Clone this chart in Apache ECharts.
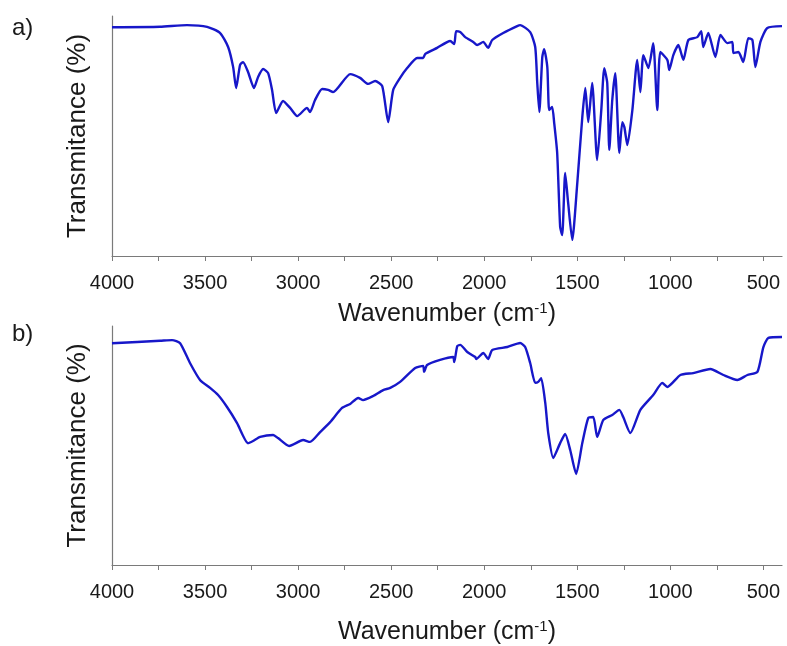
<!DOCTYPE html>
<html>
<head>
<meta charset="utf-8">
<script src="https://cdn.jsdelivr.net/npm/echarts@6/dist/echarts.min.js"></script>
<style>
  html, body { margin: 0; padding: 0; background: #fff; }
  #chart { width: 787px; height: 646px; }
</style>
</head>
<body>
<div id="chart"></div>
<script>
// FTIR spectra: wavenumber (cm-1) and relative transmittance (arbitrary units)
const wavenumberA = [4000, 3742, 3597, 3489, 3419, 3376, 3349, 3333, 3312, 3296, 3269, 3237, 3215, 3188, 3161, 3140, 3118, 3081, 3043, 3005, 2952, 2936, 2909, 2871, 2839, 2812, 2720, 2667, 2624, 2586, 2548, 2516, 2489, 2452, 2414, 2360, 2328, 2317, 2253, 2183, 2161, 2151, 2129, 2102, 2059, 2038, 2005, 1979, 1957, 1898, 1823, 1807, 1753, 1726, 1715, 1704, 1688, 1678, 1661, 1651, 1635, 1624, 1608, 1592, 1581, 1565, 1549, 1527, 1500, 1473, 1457, 1441, 1420, 1393, 1371, 1355, 1339, 1328, 1312, 1296, 1274, 1258, 1247, 1231, 1204, 1178, 1161, 1145, 1118, 1092, 1070, 1054, 1016, 1006, 984, 957, 930, 903, 855, 834, 823, 796, 758, 731, 694, 667, 661, 634, 608, 581, 559, 543, 516, 479, 400];
const transA = [95.3, 95.5, 96.2, 95.5, 92.9, 87.1, 78.7, 70.0, 79.6, 80.8, 76.7, 70.0, 74.6, 77.9, 76.2, 69.2, 59.6, 64.6, 61.7, 58.3, 61.7, 60.0, 65.0, 69.6, 69.2, 68.3, 75.8, 74.2, 71.7, 72.9, 70.8, 55.8, 69.2, 74.2, 78.3, 82.5, 82.5, 84.2, 86.7, 89.6, 88.3, 93.7, 93.3, 91.2, 89.2, 87.9, 89.2, 86.7, 90.0, 92.9, 95.8, 96.2, 93.3, 87.1, 72.1, 60.0, 82.9, 86.2, 78.7, 60.8, 62.1, 55.4, 42.9, 12.1, 8.7, 34.6, 22.1, 6.7, 30.4, 57.9, 70.0, 55.8, 72.1, 40.0, 60.8, 78.3, 72.1, 44.2, 65.0, 76.2, 42.9, 55.8, 53.7, 46.2, 60.8, 81.7, 68.3, 83.7, 78.3, 88.7, 60.8, 85.0, 81.7, 77.5, 83.7, 87.9, 81.7, 90.0, 91.2, 93.7, 87.1, 92.9, 82.9, 92.1, 88.7, 89.2, 84.6, 85.0, 80.8, 90.8, 90.0, 78.7, 89.2, 95.0, 95.8];

const wavenumberB = [4000, 3742, 3677, 3634, 3581, 3527, 3473, 3430, 3382, 3328, 3269, 3242, 3204, 3134, 3108, 3048, 2973, 2936, 2882, 2828, 2764, 2720, 2677, 2651, 2597, 2543, 2505, 2452, 2371, 2328, 2323, 2307, 2237, 2167, 2161, 2145, 2129, 2091, 2048, 2043, 2005, 1979, 1957, 1876, 1807, 1780, 1753, 1726, 1710, 1694, 1672, 1656, 1629, 1592, 1565, 1538, 1506, 1473, 1441, 1414, 1393, 1360, 1312, 1274, 1253, 1215, 1161, 1092, 1043, 1016, 946, 877, 785, 715, 640, 586, 532, 500, 473, 400];
const transB = [92.8, 93.8, 94.1, 92.8, 84.5, 77.4, 74.1, 71.1, 66.1, 59.4, 51.0, 51.9, 53.6, 54.4, 53.1, 49.8, 52.3, 51.5, 55.6, 59.8, 65.7, 67.4, 69.9, 69.0, 70.7, 73.2, 74.1, 76.6, 82.4, 83.3, 80.8, 83.7, 85.8, 87.0, 84.9, 91.6, 92.1, 89.1, 87.0, 86.2, 88.7, 86.2, 90.0, 91.2, 92.9, 91.2, 84.5, 76.2, 76.6, 78.2, 67.8, 55.2, 44.8, 51.0, 54.8, 48.1, 38.1, 51.0, 61.5, 61.9, 53.6, 60.7, 62.8, 64.9, 61.9, 55.2, 64.9, 71.1, 76.2, 74.5, 79.5, 80.3, 82.0, 79.5, 77.4, 79.5, 80.8, 91.2, 95.0, 95.4];

const tickValues = [500, 750, 1000, 1250, 1500, 1750, 2000, 2250, 2500, 2750, 3000, 3250, 3500, 3750, 4000];
const labelValues = [500, 1000, 1500, 2000, 2500, 3000, 3500, 4000];
const xTitle = 'Wavenumber (cm{sup|-1})';
const yTitle = 'Transmitance (%)';
const panelLabels = ['a)', 'b)'];

const FONT = '"Liberation Sans", Arial, sans-serif';
const AXIS_GRAY = '#7a7a7a';
const TEXT = '#1a1a1a';
const LINE_BLUE = '#1717c9';

function zip(xs, ys) { return xs.map((x, i) => [x, ys[i]]); }

function makeX(gridIndex, nameGap) {
  return {
    type: 'value', gridIndex, inverse: true, min: 400, max: 4000,
    axisLine: { show: true, onZero: false, lineStyle: { color: AXIS_GRAY, width: 1.2 } },
    axisTick: { show: true, length: 5, inside: false, customValues: tickValues, lineStyle: { color: AXIS_GRAY } },
    axisLabel: {
      customValues: labelValues, margin: 17, color: TEXT, fontSize: 20, fontFamily: FONT,
      formatter: v => String(v)
    },
    splitLine: { show: false },
    name: xTitle, nameLocation: 'middle', nameGap,
    nameTextStyle: {
      color: TEXT, fontSize: 25, fontFamily: FONT,
      rich: { sup: { fontSize: 15, verticalAlign: 'top', padding: [0, 0, 12, 0], fontFamily: FONT, color: TEXT } }
    }
  };
}

function makeY(gridIndex) {
  return {
    type: 'value', gridIndex, min: 0, max: 100,
    axisLine: { show: true, lineStyle: { color: AXIS_GRAY, width: 1.2 } },
    axisTick: { show: false }, axisLabel: { show: false }, splitLine: { show: false },
    name: yTitle, nameLocation: 'middle', nameGap: 21, nameRotate: 90,
    nameTextStyle: { color: TEXT, fontSize: 26, fontFamily: FONT }
  };
}

function spectrum(axisIndex, xs, ys) {
  return {
    type: 'line', xAxisIndex: axisIndex, yAxisIndex: axisIndex, data: zip(xs, ys),
    showSymbol: false, smooth: 0.2,
    lineStyle: { color: LINE_BLUE, width: 2.4 }
  };
}

const chart = echarts.init(document.getElementById('chart'), null, { renderer: 'canvas' });
chart.setOption({
  backgroundColor: '#ffffff',
  animation: false,
  grid: [
    { left: 112, top: 16, width: 670, height: 240, outerBoundsMode: 'none', containLabel: false },
    { left: 112, top: 326, width: 670, height: 239, outerBoundsMode: 'none', containLabel: false }
  ],
  xAxis: [makeX(0, 45), makeX(1, 54)],
  yAxis: [makeY(0), makeY(1)],
  graphic: [
    { type: 'text', left: 12, top: 16, style: { text: panelLabels[0], fontSize: 24, fontFamily: FONT, fill: TEXT } },
    { type: 'text', left: 12, top: 322, style: { text: panelLabels[1], fontSize: 24, fontFamily: FONT, fill: TEXT } }
  ],
  series: [spectrum(0, wavenumberA, transA), spectrum(1, wavenumberB, transB)]
});
</script>
</body>
</html>
